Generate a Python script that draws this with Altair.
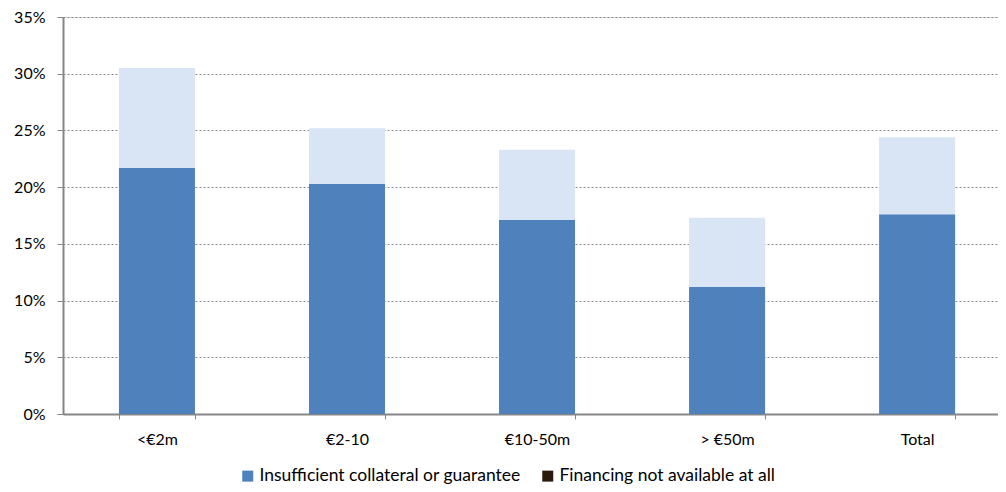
import altair as alt
import pandas as pd

categories = ["<€2m", "€2-10", "€10-50m", "> €50m", "Total"]
insufficient = [0.217, 0.203, 0.171, 0.112, 0.176]
not_available = [0.088, 0.049, 0.062, 0.061, 0.068]
series_names = ["Insufficient collateral or guarantee", "Financing not available at all"]

rows = []
for c, a, b in zip(categories, insufficient, not_available):
    rows.append({"cat": c, "series": series_names[0], "value": a, "ord": 0, "leg": series_names[0]})
    rows.append({"cat": c, "series": series_names[1], "value": b, "ord": 1, "leg": series_names[1]})
df = pd.DataFrame(rows)

FONT = "Lato"

x_enc = alt.X("cat:N", sort=categories, title=None,
              scale=alt.Scale(paddingInner=0.6, paddingOuter=0.26, align=0.566),
              axis=alt.Axis(labelAngle=0, tickBand="extent", grid=False,
                            domainColor="#868686", domainWidth=2,
                            tickColor="#868686", tickSize=5, tickWidth=1,
                            labelPadding=12, labelFontSize=16, labelFont=FONT,
                            labelColor="#000000"))
y_enc = alt.Y("value:Q", stack="zero", title=None,
              scale=alt.Scale(domain=[0, 0.35], nice=False),
              axis=alt.Axis(format=".0%", values=[0, 0.05, 0.1, 0.15, 0.2, 0.25, 0.3, 0.35],
                            grid=True, gridColor="#8c8c8c", gridDash=[2, 2], gridWidth=1,
                            domainColor="#868686", domainWidth=2,
                            tickColor="#868686", tickSize=6, labelPadding=12,
                            labelFontSize=16, labelFont=FONT, labelColor="#000000"))

bars = alt.Chart(df).mark_bar().encode(
    x=x_enc, y=y_enc,
    color=alt.Color("series:N",
                    scale=alt.Scale(domain=series_names, range=["#4F81BD", "#D9E5F5"]),
                    legend=None),
    order=alt.Order("ord:Q"),
)

legend_layer = alt.Chart(df).mark_bar(opacity=0).encode(
    x=x_enc, y=y_enc,
    color=alt.Color("leg:N",
                    scale=alt.Scale(domain=series_names, range=["#4F81BD", "#2b1a0c"]),
                    legend=alt.Legend(title=None, orient="none", direction="horizontal",
                                      legendX=176, legendY=450,
                                      symbolType="square", symbolSize=121,
                                      symbolStrokeWidth=0, symbolOpacity=1,
                                      labelOffset=3,
                                      labelFontSize=17.5, labelFont=FONT, labelColor="#000000",
                                      columnPadding=18, labelLimit=400)),
    order=alt.Order("ord:Q"),
)

chart = alt.layer(bars, legend_layer).resolve_scale(color="independent").properties(
    width=935, height=397,
    autosize=alt.AutoSizeParams(type="none"),
    padding={"left": 55, "top": 9, "right": 0, "bottom": 72},
).configure_view(stroke=None).configure(font=FONT)

chart.save("out.html", embed_options={"renderer": "svg", "actions": False})
